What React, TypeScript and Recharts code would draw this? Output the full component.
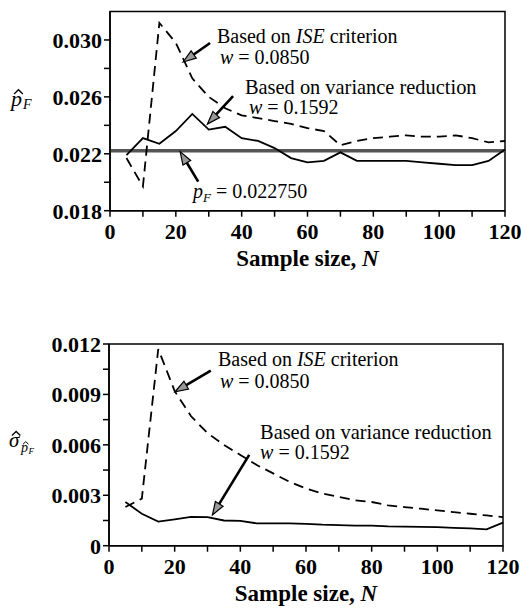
import React from "react";
import {
  LineChart,
  Line,
  XAxis,
  YAxis,
  ReferenceLine,
  ReferenceArea,
  ReferenceDot,
} from "recharts";

// sample sizes
const sampleN = [5, 10, 15, 20, 25, 30, 35, 40, 45, 50, 55, 60, 65, 70, 75, 80, 85, 90, 95, 100, 105, 110, 115, 120];

// top panel: estimated failure probability
const pIse = [0.0217, 0.0197, 0.0312, 0.0298, 0.0273, 0.026, 0.0252, 0.0247, 0.0245, 0.0243, 0.0241, 0.0238, 0.0236, 0.0226, 0.0229, 0.0231, 0.0232, 0.0233, 0.0232, 0.0232, 0.0233, 0.0231, 0.0228, 0.0229];
const pVar = [0.0219, 0.0231, 0.0227, 0.0236, 0.0248, 0.0237, 0.0239, 0.0231, 0.0229, 0.0224, 0.0217, 0.0214, 0.0215, 0.0221, 0.0215, 0.0215, 0.0215, 0.0215, 0.0214, 0.0213, 0.0212, 0.0212, 0.0215, 0.0223];
const pTrue = 0.02222;

// bottom panel: standard deviation of the estimate
const sIse = [0.0023, 0.0028, 0.0117, 0.0092, 0.0077, 0.0067, 0.006, 0.0054, 0.0048, 0.0043, 0.0038, 0.0034, 0.0031, 0.0029, 0.0027, 0.0026, 0.0024, 0.0023, 0.0022, 0.0021, 0.002, 0.0019, 0.0018, 0.0017];
const sVar = [0.0026, 0.0019, 0.00143, 0.00157, 0.00172, 0.0017, 0.0015, 0.00148, 0.00133, 0.00133, 0.00133, 0.0013, 0.00125, 0.00123, 0.0012, 0.0012, 0.00115, 0.00113, 0.00112, 0.0011, 0.00106, 0.00103, 0.00097, 0.00137];

const xTicks = [0, 10, 20, 30, 40, 50, 60, 70, 80, 90, 100, 110, 120];
const topTicks = [0.018, 0.02, 0.022, 0.024, 0.026, 0.028, 0.03];
const topLabels = ["0.018", "", "0.022", "", "0.026", "", "0.030"];
const botTicks = [0, 0.0015, 0.003, 0.0045, 0.006, 0.0075, 0.009, 0.0105, 0.012];
const botLabels = ["0", "", "0.003", "", "0.006", "", "0.009", "", "0.012"];

const topData = sampleN.map((n, i) => ({ n, ise: pIse[i], vr: pVar[i] }));
const botData = sampleN.map((n, i) => ({ n, ise: sIse[i], vr: sVar[i] }));

const FONT = "'Liberation Serif', 'Times New Roman', serif";

function Arrow(p: any) {
  const { x1, y1, x2, y2 } = p;
  const ang = Math.atan2(y2 - y1, x2 - x1);
  const len = 13;
  const half = 4.5;
  const bx = x2 - len * Math.cos(ang);
  const by = y2 - len * Math.sin(ang);
  const px = -Math.sin(ang) * half;
  const py = Math.cos(ang) * half;
  return (
    <g>
      <line x1={x1} y1={y1} x2={bx} y2={by} stroke="#000" strokeWidth={2.6} />
      <polygon
        points={`${x2},${y2} ${bx + px},${by + py} ${bx - px},${by - py}`}
        fill="#999"
        stroke="#000"
        strokeWidth={1.2}
      />
    </g>
  );
}

function note(children: React.ReactNode, size = 20) {
  return (p: any) => (
    <text x={p.cx} y={p.cy} style={{ fontFamily: FONT }} fontSize={size} fill="#000">
      {children}
    </text>
  );
}

function xTitle(props: any) {
  const vb = props.viewBox;
  return (
    <text
      x={vb.x + vb.width / 2}
      y={vb.y + 55}
      textAnchor="middle"
      style={{ fontFamily: FONT }}
      fontSize={23}
      fontWeight="bold"
    >
      Sample size, <tspan fontStyle="italic">N</tspan>
    </text>
  );
}

// italic symbol with a small hat stroke above it
function Hatted({ x, y, ch, size }: { x: number; y: number; ch: string; size: number }) {
  const s = size;
  const pts = `${x + 0.14 * s},${y - 0.55 * s} ${x + 0.34 * s},${y - 0.74 * s} ${x + 0.54 * s},${y - 0.55 * s}`;
  return (
    <g>
      <text x={x} y={y} fontSize={s} style={{ fontFamily: FONT }} fontStyle="italic">{ch}</text>
      <polyline points={pts} fill="none" stroke="#000" strokeWidth={Math.max(1, s * 0.06)} />
    </g>
  );
}

const tickStyle = { fontFamily: FONT, fontSize: 22, fontWeight: "bold", fill: "#000" };

export default function App() {
  return (
    <div style={{ position: "absolute", left: 0, top: 0, width: 522, height: 609, background: "#fff" }}>
      {/* top panel */}
      <div style={{ position: "absolute", left: 0, top: 0 }}>
        <LineChart width={522} height={271} data={topData} margin={{ top: 11.5, right: 17, bottom: 0, left: 0 }}>
          <XAxis
            dataKey="n"
            type="number"
            domain={[0, 120]}
            ticks={xTicks}
            tickFormatter={(v) => (v % 20 === 0 ? String(v) : "")}
            height={60.3}
            tickSize={6}
            tickMargin={7}
            stroke="#000"
            strokeWidth={1.5}
            tick={tickStyle}
            label={{ content: xTitle }}
          />
          <YAxis
            type="number"
            domain={[0.018, 0.032]}
            ticks={topTicks}
            tickFormatter={(v, i) => topLabels[i]}
            width={110}
            tickSize={6}
            tickMargin={2}
            stroke="#000"
            strokeWidth={1.5}
            tick={tickStyle}
            label={{
              content: () => (
                <g>
                  <Hatted x={11} y={106} ch="p" size={22} />
                  <text x={23} y={109} style={{ fontFamily: FONT }} fontSize={14} fontStyle="italic">F</text>
                </g>
              ),
            }}
          />
          <ReferenceArea x1={0} x2={120} y1={0.018} y2={0.032} fill="none" stroke="#000" strokeWidth={1.5} />
          <ReferenceLine y={pTrue} stroke="#555" strokeWidth={3.5} />
          <Line dataKey="ise" type="linear" stroke="#000" strokeWidth={1.8} strokeDasharray="10 6" dot={false} isAnimationActive={false} />
          <Line dataKey="vr" type="linear" stroke="#000" strokeWidth={1.8} dot={false} isAnimationActive={false} />
          <ReferenceLine segment={[{ x: 30.4, y: 0.02979 }, { x: 22.2, y: 0.02845 }]} shape={Arrow} ifOverflow="visible" />
          <ReferenceLine segment={[{ x: 37.4, y: 0.02606 }, { x: 29.6, y: 0.02409 }]} shape={Arrow} ifOverflow="visible" />
          <ReferenceLine segment={[{ x: 26.8, y: 0.02004 }, { x: 21.3, y: 0.02215 }]} shape={Arrow} ifOverflow="visible" />
          <ReferenceDot x={32.5} y={0.02978} ifOverflow="visible" shape={note(<>Based on <tspan fontStyle="italic">ISE</tspan> criterion</>)} />
          <ReferenceDot x={33.4} y={0.02834} ifOverflow="visible" shape={note(<><tspan fontStyle="italic">w</tspan> = 0.0850</>)} />
          <ReferenceDot x={41} y={0.0262} ifOverflow="visible" shape={note(<>Based on variance reduction</>, 20.4)} />
          <ReferenceDot x={42.2} y={0.0248} ifOverflow="visible" shape={note(<><tspan fontStyle="italic">w</tspan> = 0.1592</>)} />
          <ReferenceDot x={25.2} y={0.01889} ifOverflow="visible" shape={note(<><tspan fontStyle="italic">p</tspan><tspan fontStyle="italic" fontSize={13} dy={4}>F</tspan><tspan dy={-4}> = 0.022750</tspan></>)} />
        </LineChart>
      </div>

      {/* bottom panel */}
      <div style={{ position: "absolute", left: 0, top: 330 }}>
        <LineChart width={522} height={279} data={botData} margin={{ top: 14, right: 19, bottom: 0, left: 0 }}>
          <XAxis
            dataKey="n"
            type="number"
            domain={[0, 120]}
            ticks={xTicks}
            tickFormatter={(v) => (v % 20 === 0 ? String(v) : "")}
            height={63.3}
            tickSize={6}
            tickMargin={7}
            stroke="#000"
            strokeWidth={1.5}
            tick={tickStyle}
            label={{ content: xTitle }}
          />
          <YAxis
            type="number"
            domain={[0, 0.012]}
            ticks={botTicks}
            tickFormatter={(v, i) => botLabels[i]}
            width={109}
            tickSize={6}
            tickMargin={2}
            stroke="#000"
            strokeWidth={1.5}
            tick={tickStyle}
            label={{
              content: () => (
                <g>
                  <Hatted x={9} y={117} ch="σ" size={21} />
                  <Hatted x={21} y={122} ch="p" size={14} />
                  <text x={28.5} y={124} style={{ fontFamily: FONT }} fontSize={9} fontStyle="italic">F</text>
                </g>
              ),
            }}
          />
          <ReferenceArea x1={0} x2={120} y1={0} y2={0.012} fill="none" stroke="#000" strokeWidth={1.5} />
          <Line dataKey="ise" type="linear" stroke="#000" strokeWidth={1.8} strokeDasharray="10 6" dot={false} isAnimationActive={false} />
          <Line dataKey="vr" type="linear" stroke="#000" strokeWidth={1.8} dot={false} isAnimationActive={false} />
          <ReferenceLine segment={[{ x: 31, y: 0.01041 }, { x: 20.1, y: 0.00916 }]} shape={Arrow} ifOverflow="visible" />
          <ReferenceLine segment={[{ x: 42.7, y: 0.0054 }, { x: 31.5, y: 0.00183 }]} shape={Arrow} ifOverflow="visible" />
          <ReferenceDot x={33.2} y={0.01069} ifOverflow="visible" shape={note(<>Based on <tspan fontStyle="italic">ISE</tspan> criterion</>)} />
          <ReferenceDot x={33.8} y={0.00938} ifOverflow="visible" shape={note(<><tspan fontStyle="italic">w</tspan> = 0.0850</>)} />
          <ReferenceDot x={46} y={0.00635} ifOverflow="visible" shape={note(<>Based on variance reduction</>, 20.4)} />
          <ReferenceDot x={46} y={0.00516} ifOverflow="visible" shape={note(<><tspan fontStyle="italic">w</tspan> = 0.1592</>)} />
        </LineChart>
      </div>
    </div>
  );
}
